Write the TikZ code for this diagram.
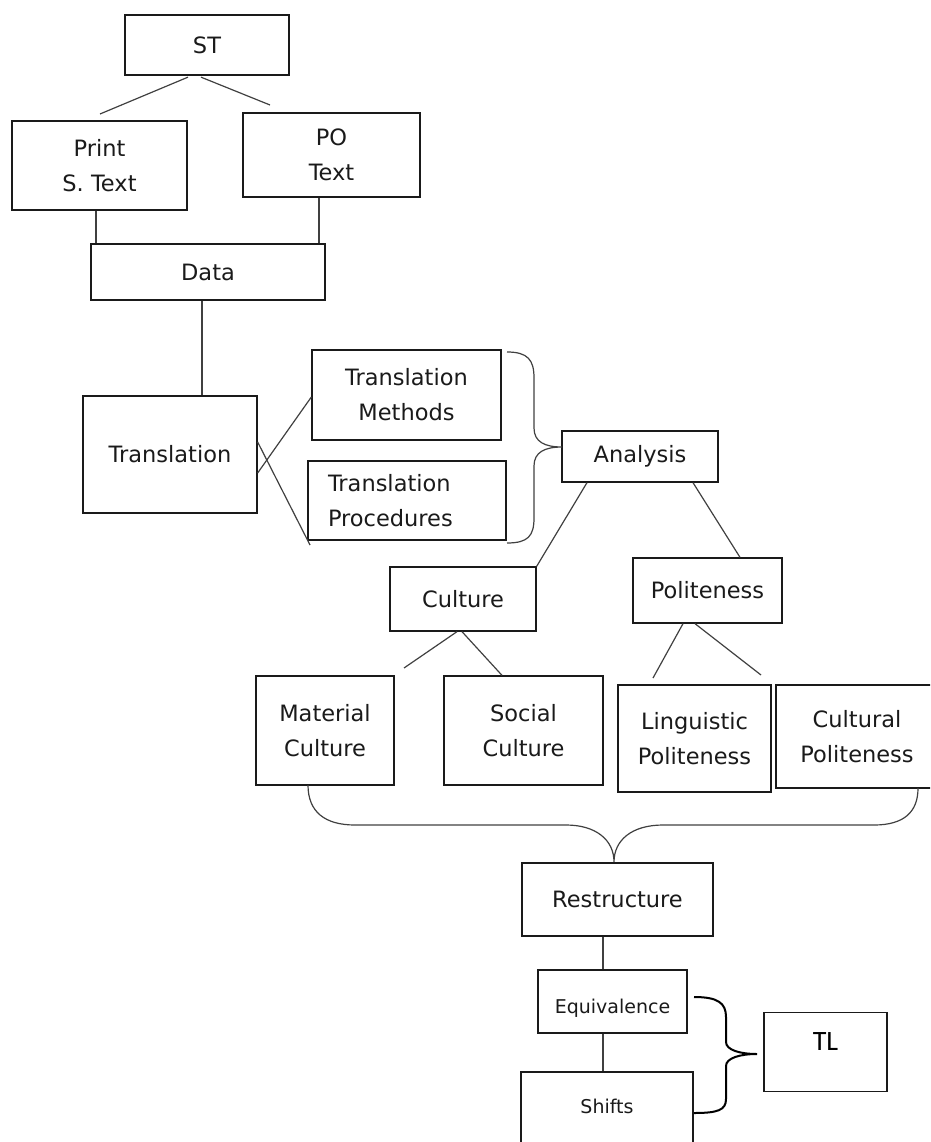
\documentclass[tikz,border=0pt]{standalone}
\usepackage{fontspec}
\setmainfont{DejaVu Sans}
\newfontfamily\tlfont{Carlito}
\definecolor{ink}{HTML}{1A1A1A}
\definecolor{wire}{HTML}{404040}
\begin{document}
\begin{tikzpicture}[x=1pt,y=-1pt,
  box/.style={draw=ink, line width=1.3pt, inner sep=0pt, align=center, text=ink,
    font=\fontsize{22.5}{35}\selectfont},
  smallbox/.style={box, font=\fontsize{19}{30}\selectfont},
  conn/.style={draw=wire, line width=1.2pt},
  brace/.style={draw=wire, line width=1.2pt},
  tlbrace/.style={draw=black, line width=2pt}]
\useasboundingbox (0,0) rectangle (930,1142);
\clip (0,0) rectangle (930,1142);

% nodes
\node[box, minimum width=164pt, minimum height=60pt] (st) at (207,45) {ST};
\node[box, minimum width=175pt, minimum height=89pt] (print) at (99.5,165.5) {Print\\S. Text};
\node[box, minimum width=177pt, minimum height=84pt] (po) at (331.5,155) {PO\\Text};
\node[box, minimum width=234pt, minimum height=56pt] (data) at (208,272) {Data};
\node[box, minimum width=174pt, minimum height=117pt] (trans) at (170,454.5) {Translation};
\node[box, minimum width=189pt, minimum height=90pt] (meth) at (406.5,395) {Translation\\Methods};
\node[box, minimum width=198pt, minimum height=79pt, text width=158pt, align=left] (proc) at (407,500.5) {Translation\\Procedures};
\node[box, minimum width=156pt, minimum height=51pt] (anal) at (640,456.5) {Analysis};
\node[box, minimum width=146pt, minimum height=64pt] (cult) at (463,599) {Culture};
\node[box, minimum width=149pt, minimum height=65pt] (pol) at (707.5,590.5) {Politeness};
\node[box, minimum width=138pt, minimum height=109pt] (mat) at (325,730.5) {Material\\Culture};
\node[box, minimum width=159pt, minimum height=109pt] (soc) at (523.5,730.5) {Social\\Culture};
\node[box, minimum width=153pt, minimum height=107pt] (ling) at (694.5,738.5) {Linguistic\\Politeness};
\node[box, minimum width=162pt, minimum height=103pt] (cpol) at (857,736.5) {Cultural\\Politeness};
\node[box, minimum width=191pt, minimum height=73pt] (restr) at (617.5,899.5) {Restructure};
\node[smallbox, minimum width=149pt, minimum height=63pt, text height=28pt, text depth=4pt] (equi) at (612.5,1001.5) {Equivalence};
\node[smallbox, minimum width=172pt, minimum height=78pt, text height=14pt, text depth=10pt] (shifts) at (607,1111) {Shifts};
\node[box, minimum width=123pt, minimum height=79pt, text=black, font=\tlfont\fontsize{28}{30}\selectfont, text height=18pt, text depth=21pt] (tl) at (825.5,1052) {TL};

% free ends of connectors
\coordinate (f1) at (100,114);
\coordinate (f2) at (270,105);
\coordinate (f3) at (310,545);
\coordinate (f4) at (404,668);
\coordinate (f5) at (653,678);
\coordinate (f6) at (761,675);

% connectors
\draw[conn] ([xshift=-19pt,yshift=-1.5pt]st.south) -- (f1);
\draw[conn] ([xshift=-6pt,yshift=-1.5pt]st.south) -- (f2);
\draw[conn] ([xshift=-3.5pt]print.south) -- ([xshift=-112pt]data.north);
\draw[conn] ([xshift=-12.5pt]po.south) -- ([xshift=111pt]data.north);
\draw[conn] ([xshift=-6pt]data.south) -- ([xshift=32pt]trans.north);
\draw[conn] ([yshift=-18.5pt]trans.east) -- ([yshift=-2pt]meth.west);
\draw[conn] ([yshift=12.5pt]trans.east) -- (f3);
\draw[conn] ([xshift=-53pt]anal.south) -- (cult.north east);
\draw[conn] ([xshift=53pt]anal.south) -- ([xshift=32.5pt]pol.north);
\draw[conn] ([xshift=-6pt]cult.south) -- (f4);
\draw[conn] ([xshift=-1pt]cult.south) -- ([xshift=-21.5pt]soc.north);
\draw[conn] ([xshift=-24.5pt]pol.south) -- (f5);
\draw[conn] ([xshift=-12.5pt]pol.south) -- (f6);
\draw[conn] ([xshift=-14.5pt]restr.south) -- ([xshift=-9.5pt]equi.north);
\draw[conn] ([xshift=-9.5pt]equi.south) -- ([xshift=-4pt]shifts.north);

% braces
\draw[brace] (507,352) .. controls (528,352) and (534,360) .. (534,378)
  -- (534,428) .. controls (534,442) and (545,447) .. (562,447)
  .. controls (545,447) and (534,452) .. (534,466)
  -- (534,518) .. controls (534,536) and (528,543) .. (507,543);
\draw[brace] (308,785) .. controls (308,812) and (325,825) .. (355,825)
  -- (566,825) .. controls (596,825) and (614,840) .. (614,862)
  .. controls (614,840) and (632,825) .. (663,825)
  -- (874,825) .. controls (904,825) and (918,812) .. (918,788);
\draw[tlbrace] (694,997) .. controls (718,997) and (726,1003) .. (726,1017)
  -- (726,1042) .. controls (726,1050) and (740,1054) .. (757,1054)
  .. controls (740,1054) and (726,1058) .. (726,1066)
  -- (726,1099) .. controls (726,1110) and (718,1113) .. (694,1113);
\end{tikzpicture}
\end{document}
